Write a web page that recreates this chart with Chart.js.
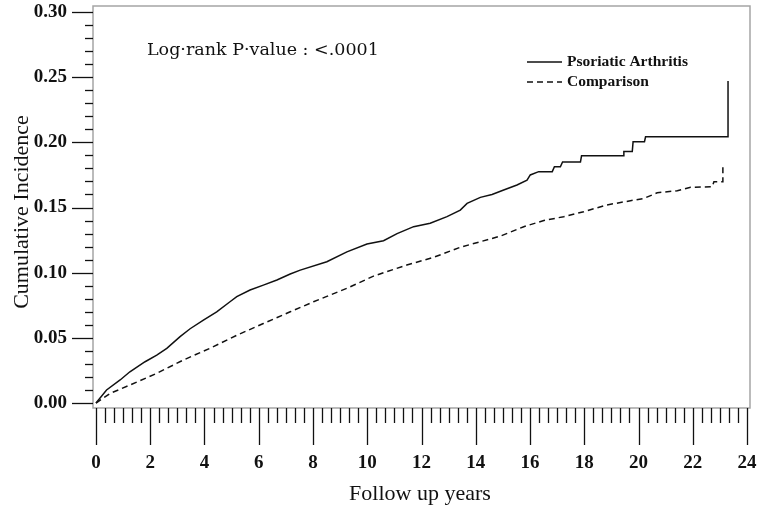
<!DOCTYPE html>
<html>
<head>
<meta charset="utf-8">
<script src="https://cdn.jsdelivr.net/npm/chart.js@4/dist/chart.umd.min.js"></script>
<style>
  html, body { margin: 0; padding: 0; background: #fff; }
  #chartContainer { width: 760px; height: 512px; }
</style>
</head>
<body>
<div id="chartContainer"><canvas id="myChart" width="760" height="512"></canvas></div>
<script>
// values (years, cumulative incidence)
const psaYears = [0, 0.39, 0.89, 1.25, 1.81, 2.24, 2.61, 3.1, 3.47, 3.96, 4.45, 4.94, 5.19, 5.68, 6.17, 6.67, 7.16,
  7.53, 8.51, 9.25, 9.99, 10.6, 11.1, 11.71, 12.32, 12.94, 13.43, 13.68, 14.17, 14.6, 15.03, 15.52, 15.89, 16.01,
  16.32, 16.82, 16.9, 17.12, 17.2, 17.86, 17.9, 19.46, 19.46, 19.77, 19.8, 20.22, 20.26, 23.3, 23.3];
const psaValues = [0, 0.010, 0.0177, 0.024, 0.0317, 0.0368, 0.042, 0.051, 0.057, 0.0637, 0.070, 0.0777, 0.0816, 0.0867, 0.0905, 0.0944, 0.099,
  0.102, 0.1084, 0.116, 0.122, 0.1245, 0.130, 0.1353, 0.1379, 0.143, 0.148, 0.1532, 0.1578, 0.160, 0.1634, 0.1673, 0.171, 0.175,
  0.1775, 0.1775, 0.1813, 0.1813, 0.185, 0.185, 0.1897, 0.1897, 0.193, 0.193, 0.2005, 0.2005, 0.2043, 0.2043, 0.247];

const compYears = [0, 0.52, 1.25, 2.24, 3.22, 4.2, 5.19, 6.17, 7.16, 8.02, 9.25, 10.23, 11.46, 12.45, 13.43, 14.17, 14.9,
  15.77, 16.51, 17.24, 17.98, 18.84, 19.7, 20.2, 20.69, 21.43, 21.92, 22.72, 22.78, 23.11, 23.11];
const compValues = [0, 0.0074, 0.0138, 0.0228, 0.033, 0.042, 0.052, 0.061, 0.070, 0.0777, 0.088, 0.0974, 0.1059, 0.1118, 0.1195, 0.1238, 0.128,
  0.1353, 0.140, 0.143, 0.1468, 0.152, 0.1552, 0.157, 0.1613, 0.1629, 0.1655, 0.166, 0.1698, 0.1698, 0.181];

const seriesLabels = ['Psoriatic Arthritis', 'Comparison'];
const xTickValues = [0, 2, 4, 6, 8, 10, 12, 14, 16, 18, 20, 22, 24];
const yTickValues = [0, 0.05, 0.10, 0.15, 0.20, 0.25, 0.30];
const yTickLabels = ['0.00', '0.05', '0.10', '0.15', '0.20', '0.25', '0.30'];
const xTitle = 'Follow up years';
const yTitle = 'Cumulative Incidence';
const pValueText = 'Log\u00b7rank P\u00b7value : <.0001';

const ctx = document.getElementById('myChart');
const serif = '"Liberation Serif", "Times New Roman", serif';

function toPoints(xs, ys) {
  return xs.map((x, i) => ({ x: x, y: ys[i] }));
}

const axesPlugin = {
  id: 'axesPlugin',
  afterDraw(chart) {
    const c = chart.ctx;
    const area = chart.chartArea;
    const xs = chart.scales.x;
    const ys = chart.scales.y;
    c.save();

    // frame
    c.strokeStyle = '#a5a5a5';
    c.lineWidth = 1.5;
    c.strokeRect(area.left, area.top, area.right - area.left, area.bottom - area.top);

    // x ticks (minor every 4 months)
    c.strokeStyle = '#111';
    c.lineWidth = 1.3;
    for (let i = 0; i <= 72; i++) {
      const px = Math.round(xs.getPixelForValue(i / 3)) + 0.5;
      const len = i % 6 === 0 ? 37 : 15;
      c.beginPath();
      c.moveTo(px, area.bottom);
      c.lineTo(px, area.bottom + len);
      c.stroke();
    }
    // y ticks (minor every 0.01)
    for (let i = 0; i <= 30; i++) {
      const py = Math.round(ys.getPixelForValue(i / 100)) + 0.5;
      const len = i % 5 === 0 ? 21 : 8;
      c.beginPath();
      c.moveTo(area.left - len, py);
      c.lineTo(area.left, py);
      c.stroke();
    }

    // tick labels
    c.fillStyle = '#111';
    c.font = 'bold 19px ' + serif;
    c.textBaseline = 'middle';
    c.textAlign = 'center';
    xTickValues.forEach(v => {
      c.fillText(String(v), xs.getPixelForValue(v), 463);
    });
    c.textAlign = 'right';
    yTickValues.forEach((v, i) => {
      c.fillText(yTickLabels[i], 67, ys.getPixelForValue(v));
    });

    // axis titles
    c.font = '22px ' + serif;
    c.textAlign = 'center';
    c.fillText(xTitle, 420, 494);
    c.save();
    c.translate(22, 212);
    c.rotate(-Math.PI / 2);
    c.fillText(yTitle, 0, 0);
    c.restore();

    // p-value note
    c.font = '17.5px "DejaVu Serif", serif';
    c.textAlign = 'left';
    c.fillText(pValueText, 147, 50);

    // legend
    c.font = 'bold 15.5px ' + serif;
    chart.data.datasets.forEach((ds, i) => {
      const ly = 62 + i * 20;
      c.strokeStyle = ds.borderColor;
      c.lineWidth = 1.5;
      c.setLineDash(ds.borderDash || []);
      c.beginPath();
      c.moveTo(527, ly);
      c.lineTo(562, ly);
      c.stroke();
      c.setLineDash([]);
      c.fillText(ds.label, 567, ly);
    });

    c.restore();
  }
};

new Chart(ctx, {
  type: 'line',
  data: {
    datasets: [
      {
        label: seriesLabels[0],
        data: toPoints(psaYears, psaValues),
        borderColor: '#111',
        borderWidth: 1.5,
        pointRadius: 0,
        tension: 0,
        fill: false
      },
      {
        label: seriesLabels[1],
        data: toPoints(compYears, compValues),
        borderColor: '#111',
        borderWidth: 1.5,
        borderDash: [6, 4],
        pointRadius: 0,
        tension: 0,
        fill: false
      }
    ]
  },
  options: {
    responsive: false,
    animation: false,
    layout: { padding: { left: 93, top: 6, right: 10, bottom: 104 } },
    plugins: {
      legend: { display: false },
      tooltip: { enabled: false }
    },
    scales: {
      x: { type: 'linear', min: -0.11, max: 24.11, display: false },
      y: { type: 'linear', min: -0.0038, max: 0.3046, display: false }
    }
  },
  plugins: [axesPlugin]
});
</script>
</body>
</html>
